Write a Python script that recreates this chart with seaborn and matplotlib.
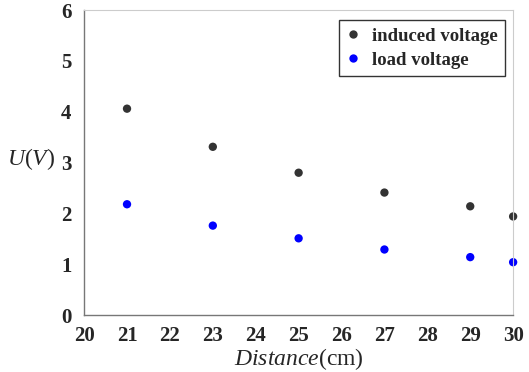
import numpy as np
import pandas as pd
import seaborn as sns
import matplotlib
matplotlib.use("Agg")
from matplotlib import pyplot as plt

distance = [21, 23, 25, 27, 29, 30]
induced_voltage = [4.06, 3.31, 2.80, 2.41, 2.14, 1.94]
load_voltage = [2.18, 1.76, 1.51, 1.29, 1.14, 1.04]
series_names = ["induced voltage", "load voltage"]
x_ticks = list(range(20, 31))
y_ticks = list(range(0, 7))

df = pd.DataFrame({
    "Distance": distance * 2,
    "U": induced_voltage + load_voltage,
    "series": [series_names[0]] * len(distance) + [series_names[1]] * len(distance),
})

sns.set_style("white")
plt.rcParams['font.family'] = ['Liberation Serif', 'DejaVu Serif']
plt.rcParams['mathtext.fontset'] = 'custom'
plt.rcParams['mathtext.it'] = 'Liberation Serif:italic'
plt.rcParams['mathtext.rm'] = 'Liberation Serif'

fig = plt.figure(figsize=(5.29, 3.72), dpi=100)
ax = fig.add_axes([0.159, 0.153, 0.811, 0.820])

sns.scatterplot(data=df, x="Distance", y="U", hue="series",
                palette={series_names[0]: "#333333", series_names[1]: "#0000ff"},
                s=36, edgecolor="none", ax=ax, clip_on=False)

ax.set_xlim(20, 30)
ax.set_ylim(0, 6)
ax.set_xticks(x_ticks)
ax.set_yticks(y_ticks)
ax.tick_params(direction="in", length=3, width=0.6, color="#888888",
               labelsize=15)
ax.tick_params(axis="x", pad=8)
ax.tick_params(axis="y", pad=9)
for lab in ax.get_xticklabels() + ax.get_yticklabels():
    lab.set_fontweight("bold")

for side in ["left", "bottom"]:
    ax.spines[side].set_color("#777777")
    ax.spines[side].set_linewidth(1.0)
for side in ["top", "right"]:
    ax.spines[side].set_color("#cccccc")
    ax.spines[side].set_linewidth(0.8)

ax.set_xlabel(r"$\mathit{Distance}$(cm)", fontsize=17, labelpad=0)
ax.set_ylabel(r"$\mathit{U}$($\mathit{V}$)", fontsize=17, rotation=0,
              va="center", ha="center")
ax.yaxis.set_label_coords(-0.123, 0.51)

leg = ax.legend(loc="upper right", bbox_to_anchor=(0.981, 0.966),
                frameon=True, fancybox=False,
                edgecolor="black", fontsize=13.5, markerscale=1.0,
                borderpad=0.4, labelspacing=0.35, handlelength=0.7,
                handletextpad=0.65, borderaxespad=0.0)
leg.get_frame().set_linewidth(1.0)
for t in leg.get_texts():
    t.set_fontweight("bold")

fig.savefig("out.png", dpi=100)
